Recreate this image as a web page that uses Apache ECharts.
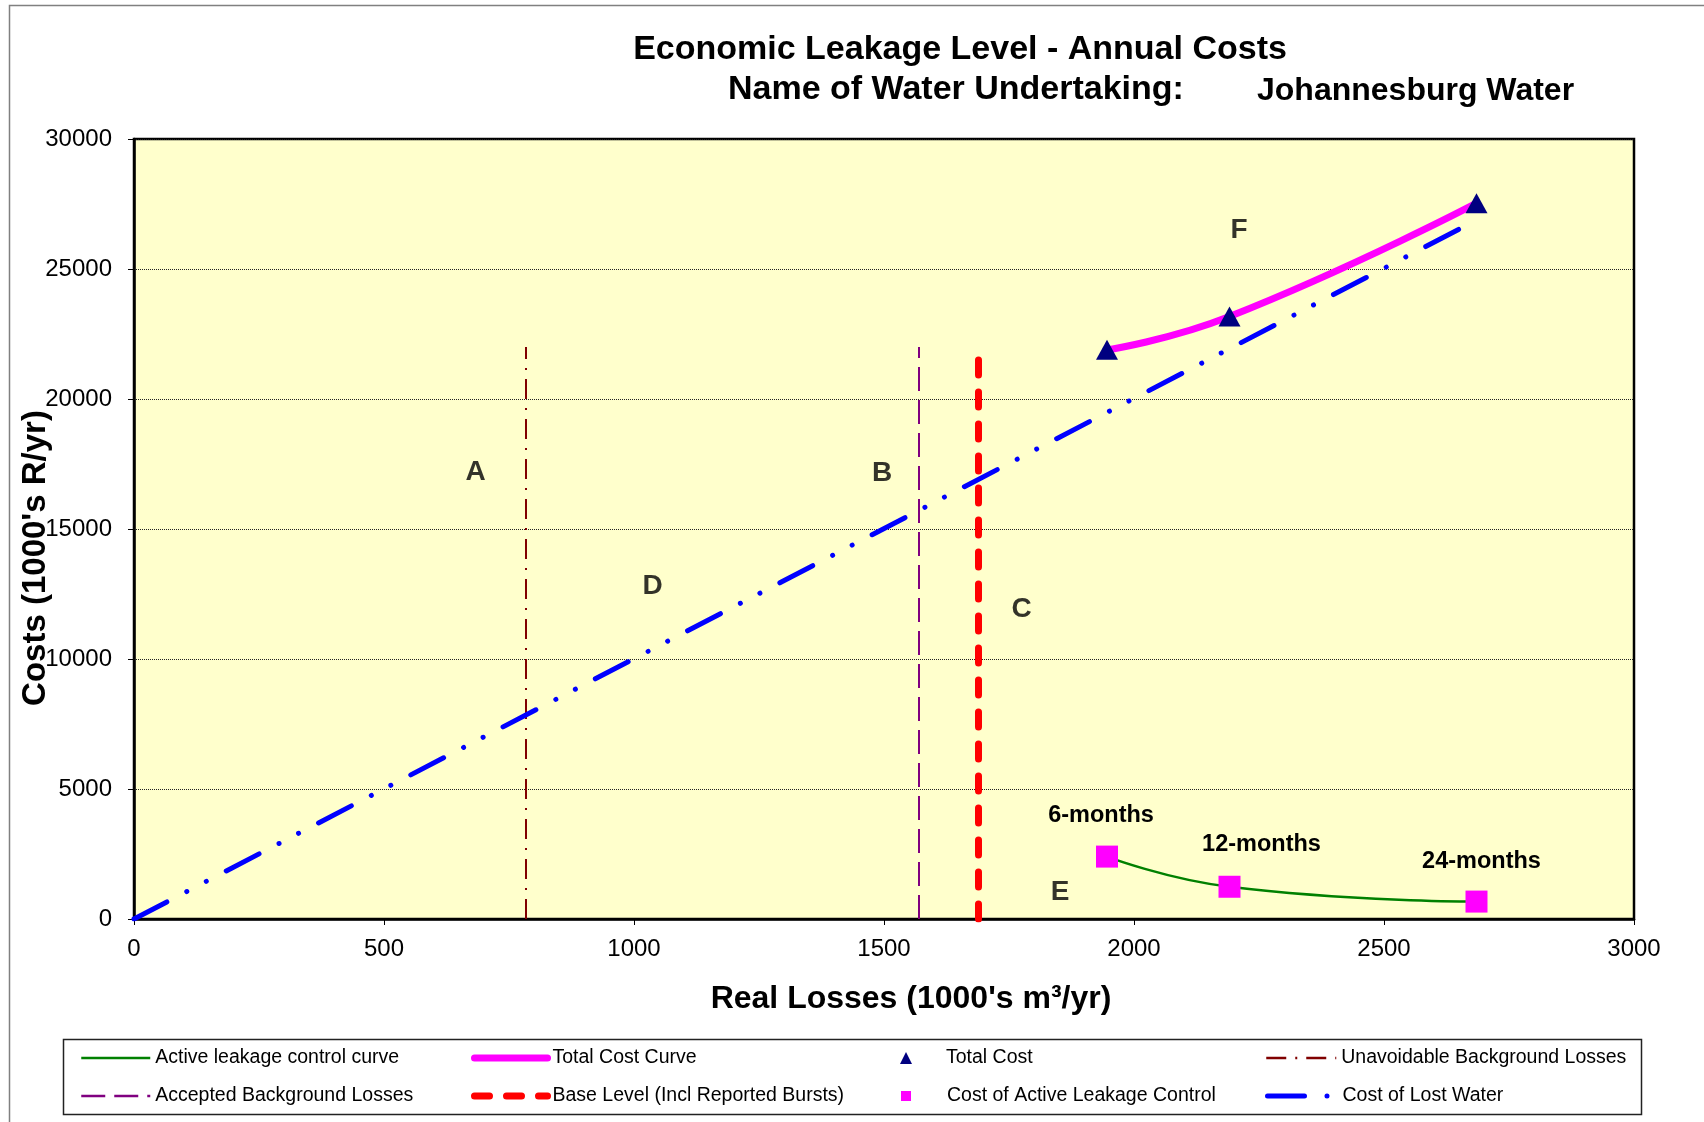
<!DOCTYPE html>
<html><head><meta charset="utf-8">
<script src="https://cdn.jsdelivr.net/npm/echarts@6/dist/echarts.min.js"></script>
<style>html,body{margin:0;padding:0;background:#fff}#c{width:1704px;height:1122px}</style>
</head><body><div id="c"></div>
<script>
// ---- data ----
const xTicks = [0, 500, 1000, 1500, 2000, 2500, 3000];
const yTicks = [0, 5000, 10000, 15000, 20000, 25000, 30000];
const interventionX = [1946, 2191, 2685];          // real losses at 6/12/24-month intervention
const alcCost = [2400, 1240, 670];                 // cost of active leakage control
const totalCost = [21890, 23170, 27530];           // total cost
const monthLabels = ['6-months', '12-months', '24-months'];
const lostWaterX = [0, 2685];
const lostWaterY = [0, 26880];
const ublX = [784, 784];   const ublY = [0, 22000];   // unavoidable background losses
const ablX = [1570, 1570]; const ablY = [0, 22000];   // accepted background losses
const baseX = [1689, 1689]; const baseY = [0, 21600]; // base level
const letterNames = ['A', 'B', 'C', 'D', 'E', 'F'];
const letterX = [683, 1496, 1775, 1037, 1852, 2210];
const letterY = [17190, 17150, 11900, 12810, 1020, 26500];
const seriesNames = ['Active leakage control curve', 'Total Cost Curve', 'Total Cost', 'Unavoidable Background Losses',
  'Accepted Background Losses', 'Base Level (Incl Reported Bursts)', 'Cost of Active Leakage Control', 'Cost of Lost Water'];

// ---- build ----
const FONT = '"Liberation Sans", Arial, sans-serif';
const zip = (a, b) => a.map((v, i) => [v, b[i]]);
const labelOffsets = [[-6, -41], [32, -42], [5, -40]];

const dashUBL = [20, 9, 2, 9], dashABL = [24, 9], dashBase = [15, 17], dashLost = [37, 22.5, 0.01, 22, 0.01, 22.5];

const legendPos = [
  {left: 80, top: 1047, w: 69, h: 12, line: {width: 2.5, type: 'solid'}},
  {left: 471, top: 1047, w: 73, h: 12, line: {width: 7, type: 'solid', cap: 'round'}},
  {left: 900, top: 1047, w: 12, h: 12, pad: 29},
  {left: 1265, top: 1047, w: 70, h: 12, line: {width: 2.5, type: dashUBL}},
  {left: 80, top: 1085, w: 69, h: 12, line: {width: 2.5, type: dashABL}},
  {left: 471, top: 1085, w: 73, h: 12, line: {width: 7, type: dashBase, cap: 'round'}},
  {left: 901, top: 1085, w: 10, h: 10, pad: 31},
  {left: 1265, top: 1085, w: 70, h: 12, line: {width: 5, type: dashLost, cap: 'round'}}
];
const legends = legendPos.map((p, i) => {
  const l = {data: [seriesNames[i]], left: p.left, top: p.top, padding: 0, itemWidth: p.w, itemHeight: p.h,
    selectedMode: false, textStyle: {fontFamily: FONT, fontSize: 19.5, color: '#000', lineHeight: 22}};
  if (p.line) { l.lineStyle = p.line; l.itemStyle = {opacity: 0}; }
  if (p.pad) l.textStyle.padding = [0, 0, 0, p.pad];
  return l;
});

const option = {
  animation: false,
  backgroundColor: '#fff',
  title: [
    {text: 'Economic Leakage Level - Annual Costs', left: 955, top: 28, textAlign: 'center',
      textStyle: {fontFamily: FONT, fontSize: 34, fontWeight: 'bold', color: '#000'}},
    {text: 'Name of Water Undertaking:', left: 723, top: 68,
      textStyle: {fontFamily: FONT, fontSize: 34, fontWeight: 'bold', color: '#000'}},
    {text: 'Johannesburg Water', left: 1252, top: 70,
      textStyle: {fontFamily: FONT, fontSize: 32, fontWeight: 'bold', color: '#000'}}
  ],
  legend: legends,
  graphic: [
    {type: 'rect', shape: {x: 9.5, y: 5.5, width: 1800, height: 1300}, style: {fill: null, stroke: '#808080', lineWidth: 1.5}, z: -10},
    {type: 'rect', shape: {x: 63.5, y: 1039.5, width: 1578, height: 75}, style: {fill: null, stroke: '#222', lineWidth: 1.5}}
  ],
  grid: {left: 134, right: 70, top: 139, bottom: 203, containLabel: false, outerBoundsMode: 'none',
    show: true, backgroundColor: '#FFFFCC', borderColor: '#000', borderWidth: 2.5},
  xAxis: {
    type: 'value', min: xTicks[0], max: xTicks[xTicks.length - 1], interval: xTicks[1] - xTicks[0],
    name: "Real Losses (1000's m³/yr)", nameLocation: 'middle', nameGap: 64, nameMoveOverlap: false,
    nameTextStyle: {fontFamily: FONT, fontSize: 32, fontWeight: 'bold', color: '#000', padding: [0, 0, 0, 54]},
    axisLine: {show: true, lineStyle: {color: '#000', width: 2.5}},
    axisTick: {show: true, length: 6, lineStyle: {color: '#000'}},
    axisLabel: {fontFamily: FONT, fontSize: 24, color: '#000', margin: 18, formatter: v => String(v)},
    splitLine: {show: false}
  },
  yAxis: {
    type: 'value', min: yTicks[0], max: yTicks[yTicks.length - 1], interval: yTicks[1] - yTicks[0],
    name: "Costs (1000's R/yr)", nameLocation: 'middle', nameGap: 82, nameRotate: 90, nameMoveOverlap: false,
    nameTextStyle: {fontFamily: FONT, fontSize: 33, fontWeight: 'bold', color: '#000', padding: [0, 58, 0, 0]},
    axisLine: {show: true, lineStyle: {color: '#000', width: 2.5}},
    axisTick: {show: true, length: 6, lineStyle: {color: '#000'}},
    axisLabel: {fontFamily: FONT, fontSize: 24, color: '#000', margin: 22, formatter: v => String(v)},
    splitLine: {show: true, lineStyle: {color: '#222', type: 'dotted', width: 1}}
  },
  series: [
    {name: seriesNames[3], type: 'line', data: zip(ublX, ublY), symbol: 'none', z: 2,
      lineStyle: {color: '#800000', width: 2, type: dashUBL}, itemStyle: {color: '#800000'}},
    {name: seriesNames[4], type: 'line', data: zip(ablX, ablY), symbol: 'none', z: 2,
      lineStyle: {color: '#800080', width: 2, type: dashABL}, itemStyle: {color: '#800080'}},
    {name: seriesNames[7], type: 'line', data: zip(lostWaterX, lostWaterY), symbol: 'none', z: 2,
      lineStyle: {color: '#0000FF', width: 5, type: dashLost, cap: 'round'}, itemStyle: {color: '#0000FF'}},
    {name: seriesNames[5], type: 'line', data: zip(baseX, baseY), symbol: 'none', z: 2,
      lineStyle: {color: '#FF0000', width: 7, type: dashBase, cap: 'round'}, itemStyle: {color: '#FF0000'}},
    {name: seriesNames[0], type: 'line', data: zip(interventionX, alcCost), symbol: 'none', smooth: 0.5, z: 3,
      lineStyle: {color: '#008000', width: 2.5}, itemStyle: {color: '#008000'}},
    {name: seriesNames[1], type: 'line', data: zip(interventionX, totalCost), symbol: 'none', smooth: 0.5, z: 3,
      lineStyle: {color: '#FF00FF', width: 7}, itemStyle: {color: '#FF00FF'}},
    {name: seriesNames[2], type: 'scatter', data: zip(interventionX, totalCost), symbol: 'triangle', symbolSize: [22, 20], z: 4,
      itemStyle: {color: '#000080', opacity: 1}},
    {name: seriesNames[6], type: 'scatter', symbol: 'rect', symbolSize: 22, z: 4,
      itemStyle: {color: '#FF00FF', opacity: 1},
      data: interventionX.map((x, i) => ({value: [x, alcCost[i]], name: monthLabels[i],
        label: {show: true, position: 'inside', offset: labelOffsets[i], formatter: monthLabels[i],
          fontFamily: FONT, fontSize: 23.5, fontWeight: 'bold', color: '#000'}}))},
    {name: 'letters', type: 'scatter', symbolSize: 1, z: 5, itemStyle: {color: 'rgba(0,0,0,0)'}, silent: true,
      data: letterNames.map((n, i) => ({name: n, value: [letterX[i], letterY[i]]})),
      label: {show: true, position: 'inside', formatter: p => p.name,
        fontFamily: FONT, fontSize: 28, fontWeight: 'bold', color: '#000'}}
  ]
};
const chart = echarts.init(document.getElementById('c'), null, {renderer: 'canvas'});
chart.setOption(option);
</script>
</body></html>
